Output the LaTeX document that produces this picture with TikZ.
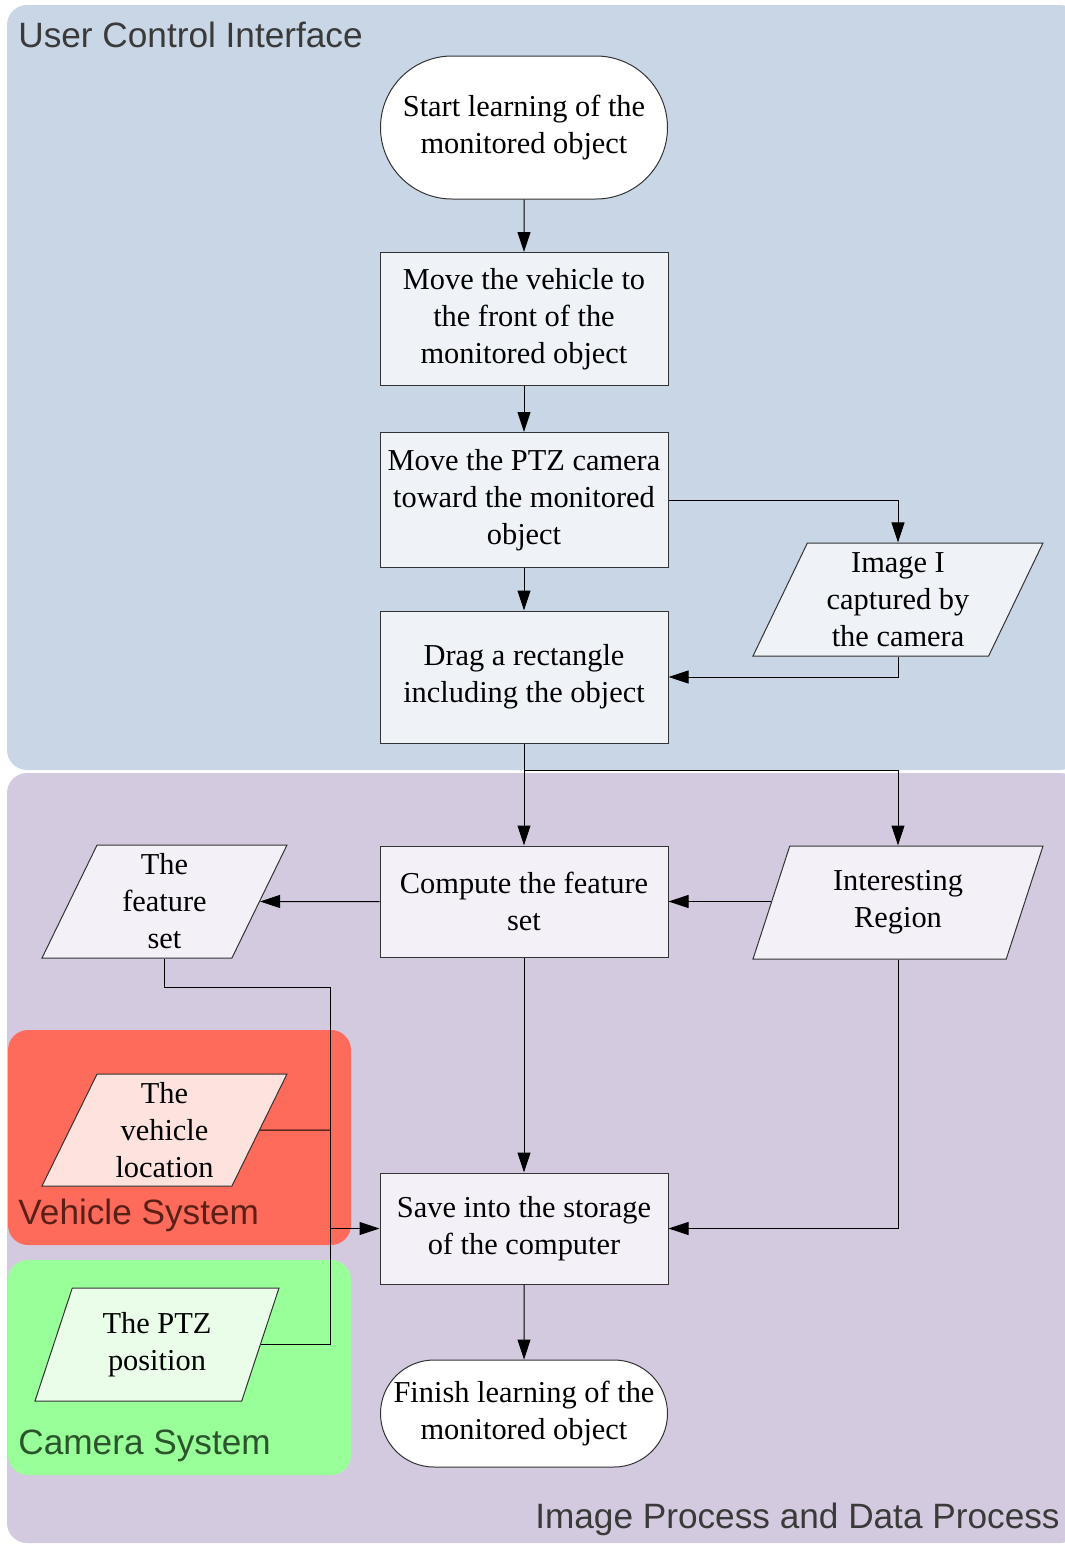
\documentclass[tikz,border=0pt]{standalone}
\usepackage{fontspec}
\setmainfont{Liberation Serif}
\newfontfamily\regionfont{Liberation Sans}
\usetikzlibrary{shapes.geometric,shapes.misc,arrows.meta}

\definecolor{uibg}{HTML}{C8D6E5}
\definecolor{procbg}{HTML}{D3CADF}
\definecolor{vehbg}{HTML}{FF6B5A}
\definecolor{cambg}{HTML}{99FF99}
\definecolor{uibox}{HTML}{EFF3F8}
\definecolor{procbox}{HTML}{F3F1F7}
\definecolor{vehbox}{HTML}{FDE2DE}
\definecolor{cambox}{HTML}{E9FDE9}
\definecolor{uitext}{HTML}{3A3A3A}
\definecolor{vehtext}{HTML}{5A2018}
\definecolor{camtext}{HTML}{2C542C}

\tikzset{
  every node/.style={font=\fontsize{15.2pt}{18.5pt}\selectfont, inner sep=0pt, align=center},
  stepbox/.style={rectangle, draw=black!80, line width=0.5pt, minimum width=144pt},
  terminal/.style={rounded rectangle, draw=black!80, line width=0.5pt, fill=white, minimum width=143.5pt},
  databox/.style={trapezium, trapezium left angle=60, trapezium right angle=120,
    trapezium stretches body=true, draw=black!80, line width=0.5pt, minimum height=56.5pt},
  arr/.style={draw=black, line width=0.5pt, -{Triangle[length=10pt,width=6.5pt]}},
  link/.style={draw=black, line width=0.5pt},
  region/.style={font=\regionfont\fontsize{17.6pt}{20pt}\selectfont}
}

\begin{document}
\begin{tikzpicture}[x=0.5pt,y=-0.5pt]
\useasboundingbox (0,0) rectangle (1065,1544);

% background regions
\fill[uibg, rounded corners=10pt] (7,5) rectangle (1080,770);
\fill[procbg, rounded corners=10pt] (7,773) rectangle (1080,1543);
\fill[vehbg, rounded corners=10pt] (8,1030) rectangle (351,1245);
\fill[cambg, rounded corners=10pt] (8,1260) rectangle (351,1475);

% region titles
\node[region, text=uitext, anchor=base west] (tui) at (18,47) {User Control Interface};
\node[region, text=uitext, anchor=base east] (tproc) at (1060,1528) {Image Process and Data Process};
\node[region, text=vehtext, anchor=base west] (tveh) at (18,1224) {Vehicle System};
\node[region, text=camtext, anchor=base west] (tcam) at (18,1454) {Camera System};

% flow steps
\node[terminal, minimum height=71.5pt] (start) at (524,127.5) {Start learning of the\\monitored object};
\node[stepbox, fill=uibox, minimum height=66.5pt] (mv) at (524,319) {Move the vehicle to\\the front of the\\monitored object};
\node[stepbox, fill=uibox, minimum height=67.5pt] (ptz) at (524,500) {Move the PTZ camera\\toward the monitored\\object};
\node[stepbox, fill=uibox, minimum height=66pt] (drag) at (524,677) {Drag a rectangle\\including the object};
\node[databox, fill=uibox, minimum width=145pt] (img) at (898,599.5) {Image I\\captured by\\the camera};

\node[stepbox, fill=procbox, minimum height=55.5pt] (comp) at (524,901.5) {Compute the feature\\set};
\node[databox, fill=procbox, minimum width=145pt] (roi) at (898,902.5) {Interesting\\Region};
\node[databox, fill=procbox, minimum width=122.5pt] (feat) at (164.5,901.5) {The\\feature\\set};
\node[stepbox, fill=procbox, minimum height=55.5pt] (save) at (524,1228.5) {Save into the storage\\of the computer};
\node[terminal, minimum height=53.5pt] (finish) at (524,1413.5) {Finish learning of the\\monitored object};

\node[databox, fill=vehbox, minimum width=122.5pt, minimum height=56pt] (veh) at (164.5,1130) {The\\vehicle\\location};
\node[databox, fill=cambox, minimum width=122pt] (cam) at (157,1344.5) {The PTZ\\position};

% junction points
\coordinate (split) at (524,770);
\coordinate (fjoin) at (330,987);
\coordinate (vjoin) at (330,1130);
\coordinate (bus) at (330,1228.5);

% connectors
\draw[arr] (start) -- (mv);
\draw[arr] (mv) -- (ptz);
\draw[arr] (ptz) -- (drag);
\draw[arr] (ptz.east) -| (img.north -| img);
\draw[arr] (img.south -| img) |- (drag.east);
\draw[arr] (drag) -- (comp);
\draw[arr] (split) -| (roi.north -| roi);
\draw[arr] (roi.west |- comp) -- (comp.east);
\draw[arr] (comp) -- (feat);
\draw[arr] (comp) -- (save);
\draw[arr] (roi.south -| roi) |- (save.east);
\draw[arr] (feat.south -| feat) |- (fjoin) |- (save.west);
\draw[link] (veh.east) -- (vjoin);
\draw[link] (cam.east) -| (bus);
\draw[arr] (save) -- (finish);
\end{tikzpicture}
\end{document}
